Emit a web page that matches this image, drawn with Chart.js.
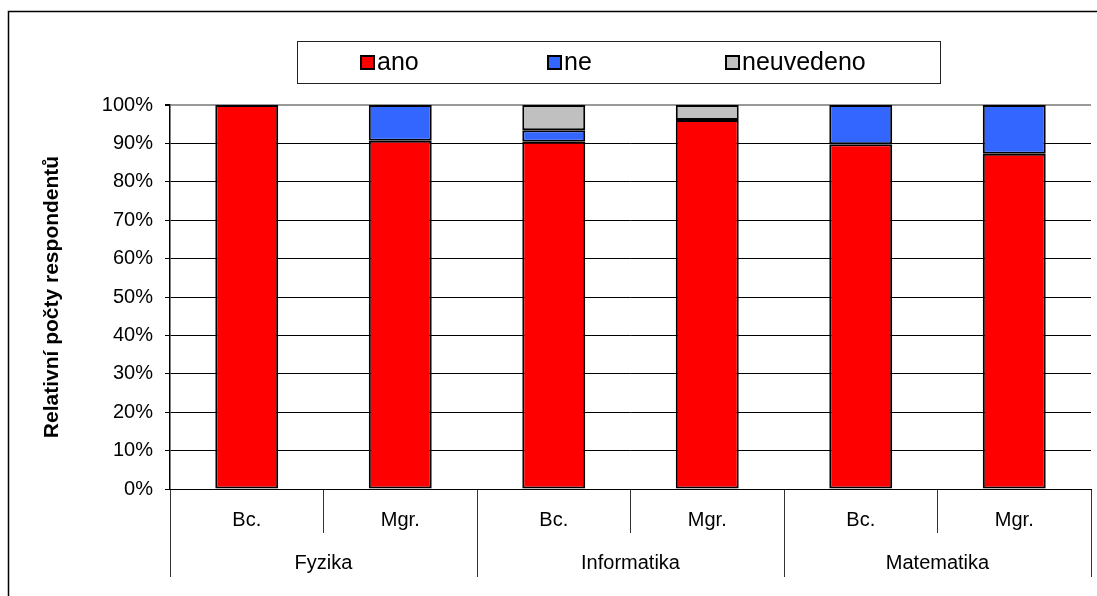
<!DOCTYPE html>
<html>
<head>
<meta charset="utf-8">
<script src="https://cdn.jsdelivr.net/npm/chart.js@4/dist/chart.umd.min.js"></script>
<style>
  html, body { margin: 0; padding: 0; background: #fff; }
  #wrap { position: relative; width: 1097px; height: 596px; }
</style>
</head>
<body>
<div id="wrap"><canvas id="c" width="1097" height="596"></canvas></div>
<script>
// Study level per bar, and the field each pair of bars belongs to
const levels = ['Bc.', 'Mgr.', 'Bc.', 'Mgr.', 'Bc.', 'Mgr.'];
const fields = ['Fyzika', 'Informatika', 'Matematika'];

// Share of respondents (%) per answer
const ano       = [100, 90.7, 90.4, 96.1, 89.8, 87.3];
const ne        = [null, 9.3, 3.0, null, 10.2, 12.7];
const neuvedeno = [null, null, 6.6, 3.9, null, null];

const seriesNames  = ['ano', 'ne', 'neuvedeno'];
const seriesColors = ['#FF0000', '#3366FF', '#C0C0C0'];
const yAxisTitle = 'Relativní počty respondentů';

const FONT = "'Liberation Sans', Arial, sans-serif";

// Page frame and the boxed key above the plot
const keyPlugin = {
  id: 'frameAndKey',
  beforeDraw(chart) {
    const ctx = chart.ctx;
    ctx.save();
    ctx.fillStyle = '#fff';
    ctx.fillRect(0, 0, chart.width, chart.height);
    ctx.strokeStyle = '#000';
    ctx.lineWidth = 1.5;
    ctx.strokeRect(8.5, 11.5, chart.width + 20, chart.height + 20);
    ctx.restore();
  },
  afterDraw(chart) {
    const ctx = chart.ctx;
    const box = { left: 297, top: 41, right: 940, bottom: 83 };
    const itemX = [361, 548, 726];
    const mid = (box.top + box.bottom) / 2;
    ctx.save();
    ctx.strokeStyle = '#222';
    ctx.lineWidth = 1;
    ctx.strokeRect(box.left + 0.5, box.top + 0.5, box.right - box.left, box.bottom - box.top);
    ctx.font = '25px ' + FONT;
    ctx.textBaseline = 'middle';
    ctx.textAlign = 'left';
    chart.data.datasets.forEach((ds, i) => {
      const s = 13;
      const x = itemX[i], y = Math.round(mid - s / 2);
      ctx.fillStyle = ds.backgroundColor;
      ctx.fillRect(x, y, s, s);
      ctx.lineWidth = 2;
      ctx.strokeStyle = '#000';
      ctx.strokeRect(x, y, s, s);
      ctx.fillStyle = '#000';
      ctx.fillText(ds.label, x + s + 3, mid + 1);
    });
    ctx.restore();
  }
};

const seriesData = [ano, ne, neuvedeno];

new Chart(document.getElementById('c'), {
  type: 'bar',
  data: {
    labels: levels,
    datasets: seriesNames.map((name, i) => ({
      label: name,
      data: seriesData[i],
      backgroundColor: seriesColors[i],
      borderColor: '#000',
      borderWidth: 2,
      borderSkipped: false,
      categoryPercentage: 0.41,
      barPercentage: 1.0,
      xAxisID: 'x',
      yAxisID: 'y'
    }))
  },
  options: {
    responsive: false,
    animation: false,
    devicePixelRatio: 1,
    layout: { padding: { left: 20, top: 105, right: 6, bottom: 7 } },
    plugins: {
      legend: { display: false },
      tooltip: { enabled: false }
    },
    scales: {
      x: {
        type: 'category',
        stacked: true,
        offset: true,
        weight: 0,
        grid: {
          offset: true,
          drawOnChartArea: false,
          drawTicks: true,
          tickLength: 44,
          color: '#333',
          lineWidth: 1
        },
        border: { display: true, color: '#000', width: 1 },
        ticks: {
          padding: -25,
          maxRotation: 0,
          autoSkip: false,
          color: '#000',
          font: { family: FONT, size: 20 }
        },
        afterFit(scale) { scale.height = 44; }
      },
      x2: {
        type: 'category',
        position: 'bottom',
        labels: fields,
        offset: true,
        weight: 1,
        grid: {
          offset: true,
          drawOnChartArea: false,
          drawTicks: true,
          tickLength: 44,
          color: '#333',
          lineWidth: 1
        },
        border: { display: false },
        ticks: {
          padding: -26,
          maxRotation: 0,
          autoSkip: false,
          color: '#000',
          font: { family: FONT, size: 20 }
        },
        afterFit(scale) { scale.height = 56; }
      },
      y: {
        stacked: true,
        min: 0,
        max: 100,
        ticks: {
          stepSize: 10,
          padding: 12,
          color: '#000',
          font: { family: FONT, size: 20 },
          callback: v => v + '%'
        },
        grid: {
          color: c => (c.tick && c.tick.value === 100 ? '#999' : '#000'),
          lineWidth: c => (c.tick && c.tick.value === 100 ? 2 : 1),
          tickColor: '#000',
          tickLength: 5,
          drawTicks: true
        },
        border: { display: true, color: '#000', width: 1.5 },
        title: {
          display: true,
          text: yAxisTitle,
          color: '#000',
          font: { family: FONT, size: 21, weight: 'bold' },
          padding: { top: 20, bottom: 0 }
        },
        afterFit(scale) { scale.width = 150; }
      }
    }
  },
  plugins: [keyPlugin]
});
</script>
</body>
</html>
